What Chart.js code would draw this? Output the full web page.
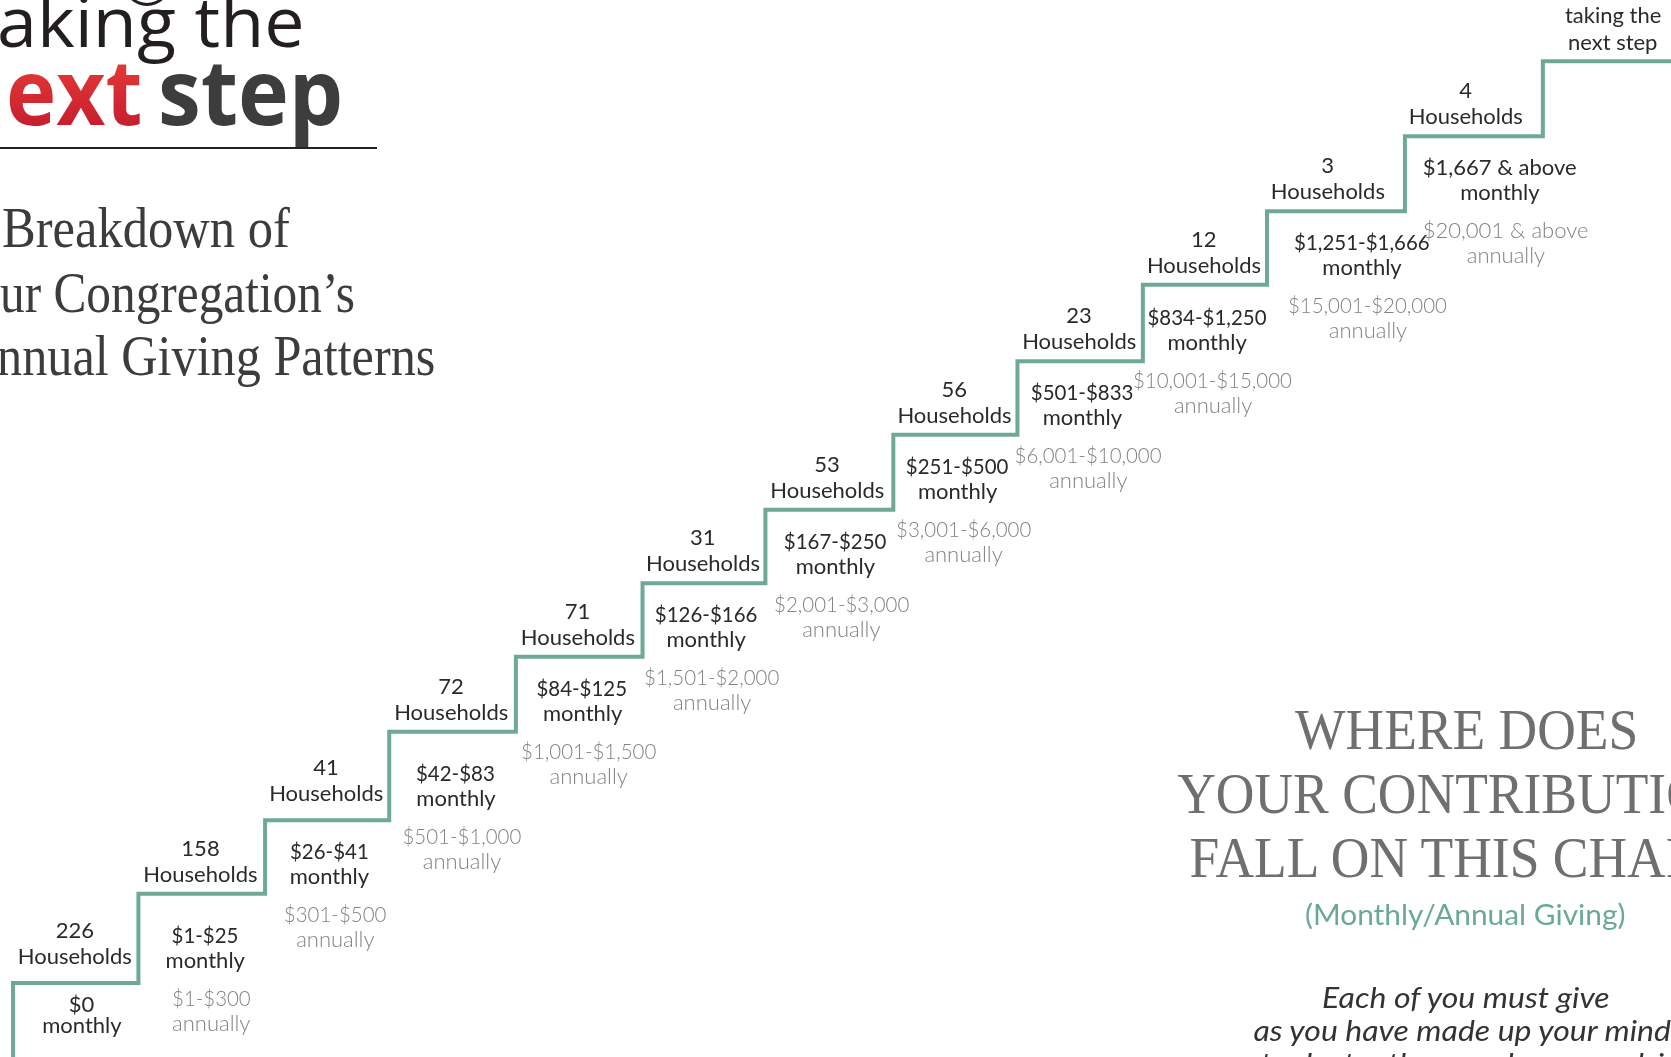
<!DOCTYPE html>
<html><head><meta charset="utf-8">
<script src="https://cdn.jsdelivr.net/npm/chart.js@4.4.1/dist/chart.umd.min.js"></script>
<style>
html,body{margin:0;padding:0;background:#fff;}
#stage{position:relative;width:1671px;height:1057px;overflow:hidden;background:#fff}
#c{position:absolute;left:0;top:0}
.t{position:absolute;white-space:nowrap;line-height:1;}
.step{font-family:Lato,'Noto Sans',sans-serif;font-size:22px;color:#2a2a2a;font-weight:400}
.ann{color:#828282;font-weight:300}
.logo1{font-family:'Open Sans',sans-serif;font-size:70px;color:#231f20;}
.logo2{font-family:'Open Sans',sans-serif;font-size:92px;font-weight:700;color:#3d3d3d;}
.red{background:linear-gradient(#ec4137,#c21a2e);-webkit-background-clip:text;background-clip:text;color:transparent;}
.serif{font-family:'Liberation Serif',serif;font-size:56px;color:#3c3c3c;}
.grey{color:#6f6f6f}
.teal{font-family:Lato,sans-serif;font-size:28px;color:#6aaa95;}
.ital{font-family:Lato,sans-serif;font-size:28px;font-style:italic;color:#333;}
#rule{position:absolute;left:0;top:147px;width:377px;height:1.5px;background:#222}
#ring{position:absolute;left:124px;top:-38px;width:40px;height:38px;border:3px solid #231f20;border-radius:50%}
</style></head><body>
<div id="stage"><canvas id="c" width="1671" height="1057"></canvas><div id="rule"></div><div id="ring"></div></div>
<script>
// ---- data ----
const households = [226, 158, 41, 72, 71, 31, 53, 56, 23, 12, 3, 4];
const monthlyRange = ['$0', '$1-$25', '$26-$41', '$42-$83', '$84-$125', '$126-$166', '$167-$250', '$251-$500', '$501-$833', '$834-$1,250', '$1,251-$1,666', '$1,667 & above'];
const annualRange = ['', '$1-$300', '$301-$500', '$501-$1,000', '$1,001-$1,500', '$1,501-$2,000', '$2,001-$3,000', '$3,001-$6,000', '$6,001-$10,000', '$10,001-$15,000', '$15,001-$20,000', '$20,001 & above'];
const riserX = [0, 1.0, 2.01, 3.0, 4.01, 5.02, 6.0, 7.02, 8.01, 9.01, 10.0, 11.1, 12.2];
const treadLevel = [0, 1.19, 2.17, 3.35, 4.35, 5.33, 6.31, 7.31, 8.29, 9.31, 10.29, 11.29, 12.29];
const topStepLabel = ['taking the', 'next step'];

const X_MIN = -0.104, X_MAX = 13.222, Y_MIN = -0.987, Y_MAX = 13.107;

// staircase points (stepped 'after')
const pts = [{x: riserX[0], y: Y_MIN}];
for (let i = 1; i < riserX.length; i++) pts.push({x: riserX[i], y: treadLevel[i - 1]});
pts.push({x: X_MAX, y: treadLevel[treadLevel.length - 1]});

const stage = document.getElementById('stage');
const chart = new Chart(document.getElementById('c'), {
  type: 'line',
  data: {datasets: [{data: pts, borderColor: 'rgb(111,168,150)', borderWidth: 4, pointRadius: 0, stepped: 'after', fill: false, tension: 0, borderJoinStyle: 'miter'}]},
  options: {
    responsive: false, animation: false, devicePixelRatio: 1,
    layout: {padding: 0},
    plugins: {legend: {display: false}, tooltip: {enabled: false}, title: {display: false}},
    scales: {
      x: {type: 'linear', min: X_MIN, max: X_MAX, display: false},
      y: {type: 'linear', min: Y_MIN, max: Y_MAX, display: false}
    }
  }
});

function addText(txt, cls, x, baseline, align, targetW, scaleOverride) {
  const el = document.createElement('div');
  el.className = 't ' + cls;
  const s = document.createElement('span'); s.textContent = txt; el.appendChild(s);
  const m = document.createElement('span');
  m.style.cssText = 'display:inline-block;width:0;height:0;vertical-align:baseline';
  el.appendChild(m);
  el.style.left = '0px'; el.style.top = '0px';
  stage.appendChild(el);
  const b = m.offsetTop;
  const w = el.offsetWidth;
  let sc = scaleOverride || (targetW ? targetW / w : 1);
  el.style.top = (baseline - b) + 'px';
  if (align === 'center') { el.style.left = (x - w / 2) + 'px'; el.style.transformOrigin = 'center'; }
  else { el.style.left = x + 'px'; el.style.transformOrigin = 'left'; }
  if (sc !== 1) el.style.transform = 'scaleX(' + sc + ')';
  return sc;
}
// numeric-only labels are drawn slightly narrower (Lato digits are wider than the original face)
const numScale = s => /[a-z]/i.test(s) ? null : 0.93;

const xs = chart.scales.x, ys = chart.scales.y;
const n = treadLevel.length - 1;
const T = i => ys.getPixelForValue(treadLevel[i]);
const riserPx = i => (i === 0 ? 75 : T(i - 1) - T(i));
for (let i = 0; i < households.length; i++) {
  const t = T(i);
  const xl = xs.getPixelForValue(riserX[i]), xr = xs.getPixelForValue(riserX[i + 1]);
  const cx = (xl + xr) / 2, w = xr - xl;
  const hx = cx - 1 - 0.6 * Math.max(0, w - 126);
  const up = 0.5 * Math.max(0, riserPx(i + 1) - 75);
  addText(String(households[i]), 'step', hx, t - 38 - up, 'center');
  addText('Households', 'step', hx, t - 12 - up, 'center');
  const mx = cx + 2 + 2 * Math.max(0, w - 126);
  const down = 0.75 * Math.max(0, riserPx(i) - 75);
  if (annualRange[i]) {
    addText(monthlyRange[i], 'step', mx, t + 39 + down, 'center', null, numScale(monthlyRange[i]));
    addText('monthly', 'step', mx, t + 64 + down, 'center');
    addText(annualRange[i], 'step ann', mx + 6, t + 102 + down, 'center', null, numScale(annualRange[i]));
    addText('annually', 'step ann', mx + 6, t + 127 + down, 'center');
  } else {
    addText(monthlyRange[i], 'step', cx + 6, t + 29, 'center');
    addText('monthly', 'step', cx + 6, t + 50, 'center');
  }
}
{
  const t = T(n);
  const cx = (xs.getPixelForValue(riserX[n]) + xs.getPixelForValue(X_MAX)) / 2;
  addText(topStepLabel[0], 'step', cx + 6, t - 38, 'center');
  addText(topStepLabel[1], 'step', cx + 6, t - 11, 'center');
}

// logo + headings
addText('aking the', 'logo1', -3, 47, 'left', 308);
addText('ext', 'logo2 red', 6, 125, 'left', 136);
addText('step', 'logo2', 158, 125, 'left', 185);
addText('Breakdown of', 'serif', 2, 247, 'left', 288);
addText('ur Congregation\u2019s', 'serif', 0, 312, 'left', 355);
addText('nnual Giving Patterns', 'serif', -3, 375, 'left', 438);
const sc2 = addText('WHERE DOES', 'serif grey', 1466, 749, 'center', 343);
addText('YOUR CONTRIBUTION', 'serif grey', 1460, 813, 'center', null, sc2);
addText('FALL ON THIS CHART', 'serif grey', 1460, 877, 'center', null, sc2);
addText('(Monthly/Annual Giving)', 'teal', 1465, 925, 'center', 320);
const sc3 = addText('Each of you must give', 'ital', 1466, 1008, 'center', 288);
addText('as you have made up your mind,', 'ital', 1466, 1041, 'center', null, sc3);
addText('not reluctantly or under compulsion,', 'ital', 1466, 1074, 'center', null, sc3);
</script>
</body></html>
